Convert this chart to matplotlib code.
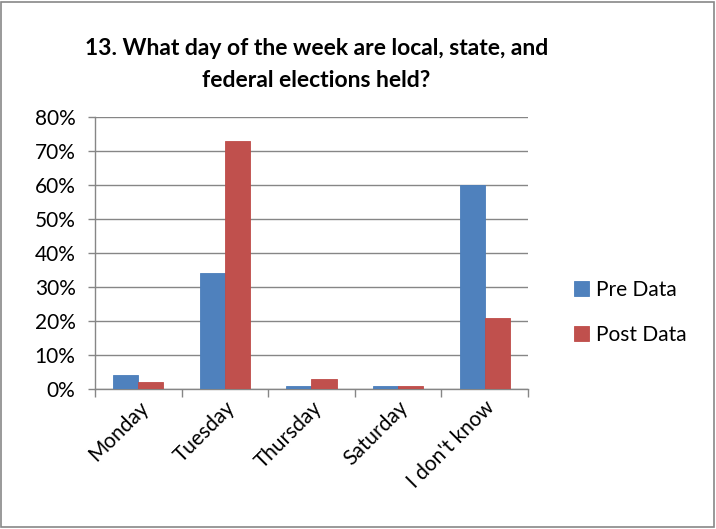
import matplotlib.pyplot as plt
import numpy as np
from matplotlib.patches import Rectangle

categories = ["Monday", "Tuesday", "Thursday", "Saturday", "I don't know"]
pre_data = [4, 34, 1, 1, 60]
post_data = [2, 73, 3, 1, 21]
y_ticks = [0, 10, 20, 30, 40, 50, 60, 70, 80]

plt.rcParams["font.family"] = ["Lato", "DejaVu Sans"]

fig = plt.figure(figsize=(7.16, 5.29), dpi=100)
fig.patches.append(Rectangle((0.002, 0.003), 0.995, 0.994, transform=fig.transFigure,
                             fill=False, edgecolor="#888888", linewidth=1.2))

ax = fig.add_axes([0.1327, 0.2647, 0.6047, 0.5141])
x = np.arange(len(categories))
w = 0.29
ax.bar(x - w / 2, pre_data, w, color="#4F81BD", edgecolor="#4A7EBB", linewidth=0.6,
       label="Pre Data", zorder=3)
ax.bar(x + w / 2, post_data, w, color="#C0504D", edgecolor="#BE4B48", linewidth=0.6,
       label="Post Data", zorder=3)

ax.set_xlim(-0.5, len(categories) - 0.5)
ax.set_ylim(0, 80)
ax.set_yticks(y_ticks)
ax.set_yticklabels([f"{v}%" for v in y_ticks], fontsize=15)
ax.yaxis.grid(True, color="#868686", linewidth=1.0, zorder=0)

# ticks between categories
ax.set_xticks(np.arange(len(categories) + 1) - 0.5)
ax.set_xticklabels([])
ax.set_xticks(x, minor=True)
ax.set_xticklabels(categories, minor=True, rotation=45, ha="right",
                   rotation_mode="anchor", fontsize=15)
ax.tick_params(axis="x", which="minor", length=0, pad=6)
ax.tick_params(axis="x", which="major", length=6, color="#868686", width=1.0)
ax.tick_params(axis="y", length=5, color="#868686", width=1.0, pad=9)

for side in ["top", "right"]:
    ax.spines[side].set_visible(False)
for side in ["left", "bottom"]:
    ax.spines[side].set_color("#868686")
    ax.spines[side].set_linewidth(1.0)

fig.text(0.442, 0.908, "13. What day of the week are local, state, and",
         ha="center", va="center", fontsize=16.5, fontweight="bold")
fig.text(0.442, 0.848, "federal elections held?",
         ha="center", va="center", fontsize=16.5, fontweight="bold")

fig.legend(loc="center left", bbox_to_anchor=(0.775, 0.41), frameon=False,
           fontsize=15, handlelength=0.75, handleheight=0.75, handletextpad=0.3,
           labelspacing=1.2)

fig.savefig("out.png", dpi=100)
